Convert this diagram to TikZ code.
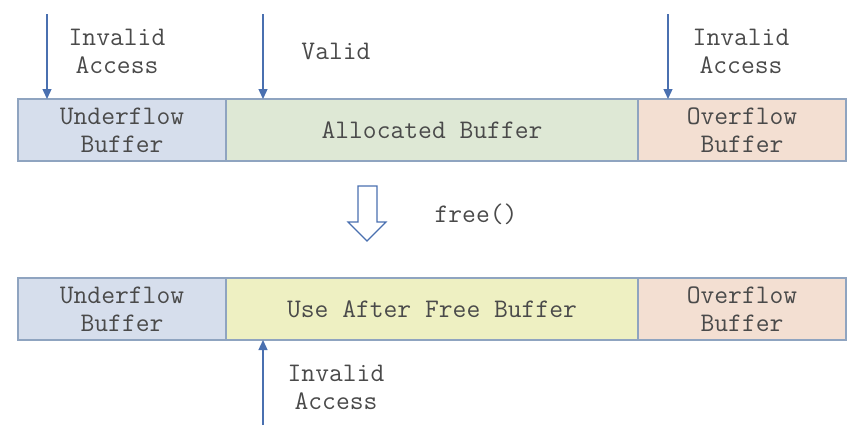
\documentclass[tikz,border=0pt]{standalone}
\usepackage{fontspec}
\usepackage{tikz}
\usetikzlibrary{positioning,arrows.meta}
\definecolor{ufcol}{HTML}{D6DEEC}
\definecolor{alcol}{HTML}{DEE8D5}
\definecolor{ofcol}{HTML}{F3DFD2}
\definecolor{uafcol}{HTML}{EEF0C2}
\definecolor{edgecol}{HTML}{8FA4C0}
\definecolor{accol}{HTML}{4A70B0}
\definecolor{txtcol}{HTML}{4A4A4A}
\tikzset{>=stealth,
  bufbox/.style={draw=edgecol, line width=1.2pt, minimum height=62pt, inner sep=0pt, outer sep=0pt, align=center},
  lbl/.style={align=center, inner sep=0pt},
  acc/.style={-{Triangle[length=10pt,width=9pt]}, draw=accol, line width=1.3pt}}

\begin{document}
\begin{tikzpicture}[x=1pt, y=-1pt, font=\ttfamily\fontsize{26.8}{28}\selectfont, text=txtcol]
    \useasboundingbox (0,0) rectangle (863,440);

    % Buffers before free()
    \node[bufbox, fill=ufcol, minimum width=208pt, anchor=north west] (uf1) at (18,99) {Underflow\\Buffer};
    \node[bufbox, fill=alcol, minimum width=412pt, right=0pt of uf1] (al1) {Allocated Buffer};
    \node[bufbox, fill=ofcol, minimum width=208pt, right=0pt of al1] (of1) {Overflow\\Buffer};

    % Buffers after free()
    \node[bufbox, fill=ufcol, minimum width=208pt, anchor=north west] (uf2) at (18,278) {Underflow\\Buffer};
    \node[bufbox, fill=uafcol, minimum width=412pt, right=0pt of uf2] (uaf2) {Use After Free Buffer};
    \node[bufbox, fill=ofcol, minimum width=208pt, right=0pt of uaf2] (of2) {Overflow\\Buffer};

    % Accesses
    \coordinate (a1) at (47,14);
    \coordinate (a2) at (263,14);
    \coordinate (a3) at (668,14);
    \coordinate (a4) at (263,425);
    \draw[acc] (a1) -- (a1 |- uf1.north);
    \draw[acc] (a2) -- (a2 |- al1.north);
    \draw[acc] (a3) -- (a3 |- of1.north);
    \draw[acc] (a4) -- (a4 |- uaf2.south);

    % Labels
    \node[lbl] (inv1) at (117,51) {Invalid\\Access};
    \node[lbl] (val2) at (336,51) {Valid};
    \node[lbl] (inv3) at (741,51) {Invalid\\Access};
    \node[lbl] (inv4) at (336,387) {Invalid\\Access};

    % free() step
    \draw[accol, line width=1.2pt, fill=white] (358,186) -- (377,186) -- (377,222) -- (386,222)
        -- (367,241) -- (348,222) -- (358,222) -- cycle;
    \node[lbl] (fr) at (476,214) {free()};

\end{tikzpicture}
\end{document}
